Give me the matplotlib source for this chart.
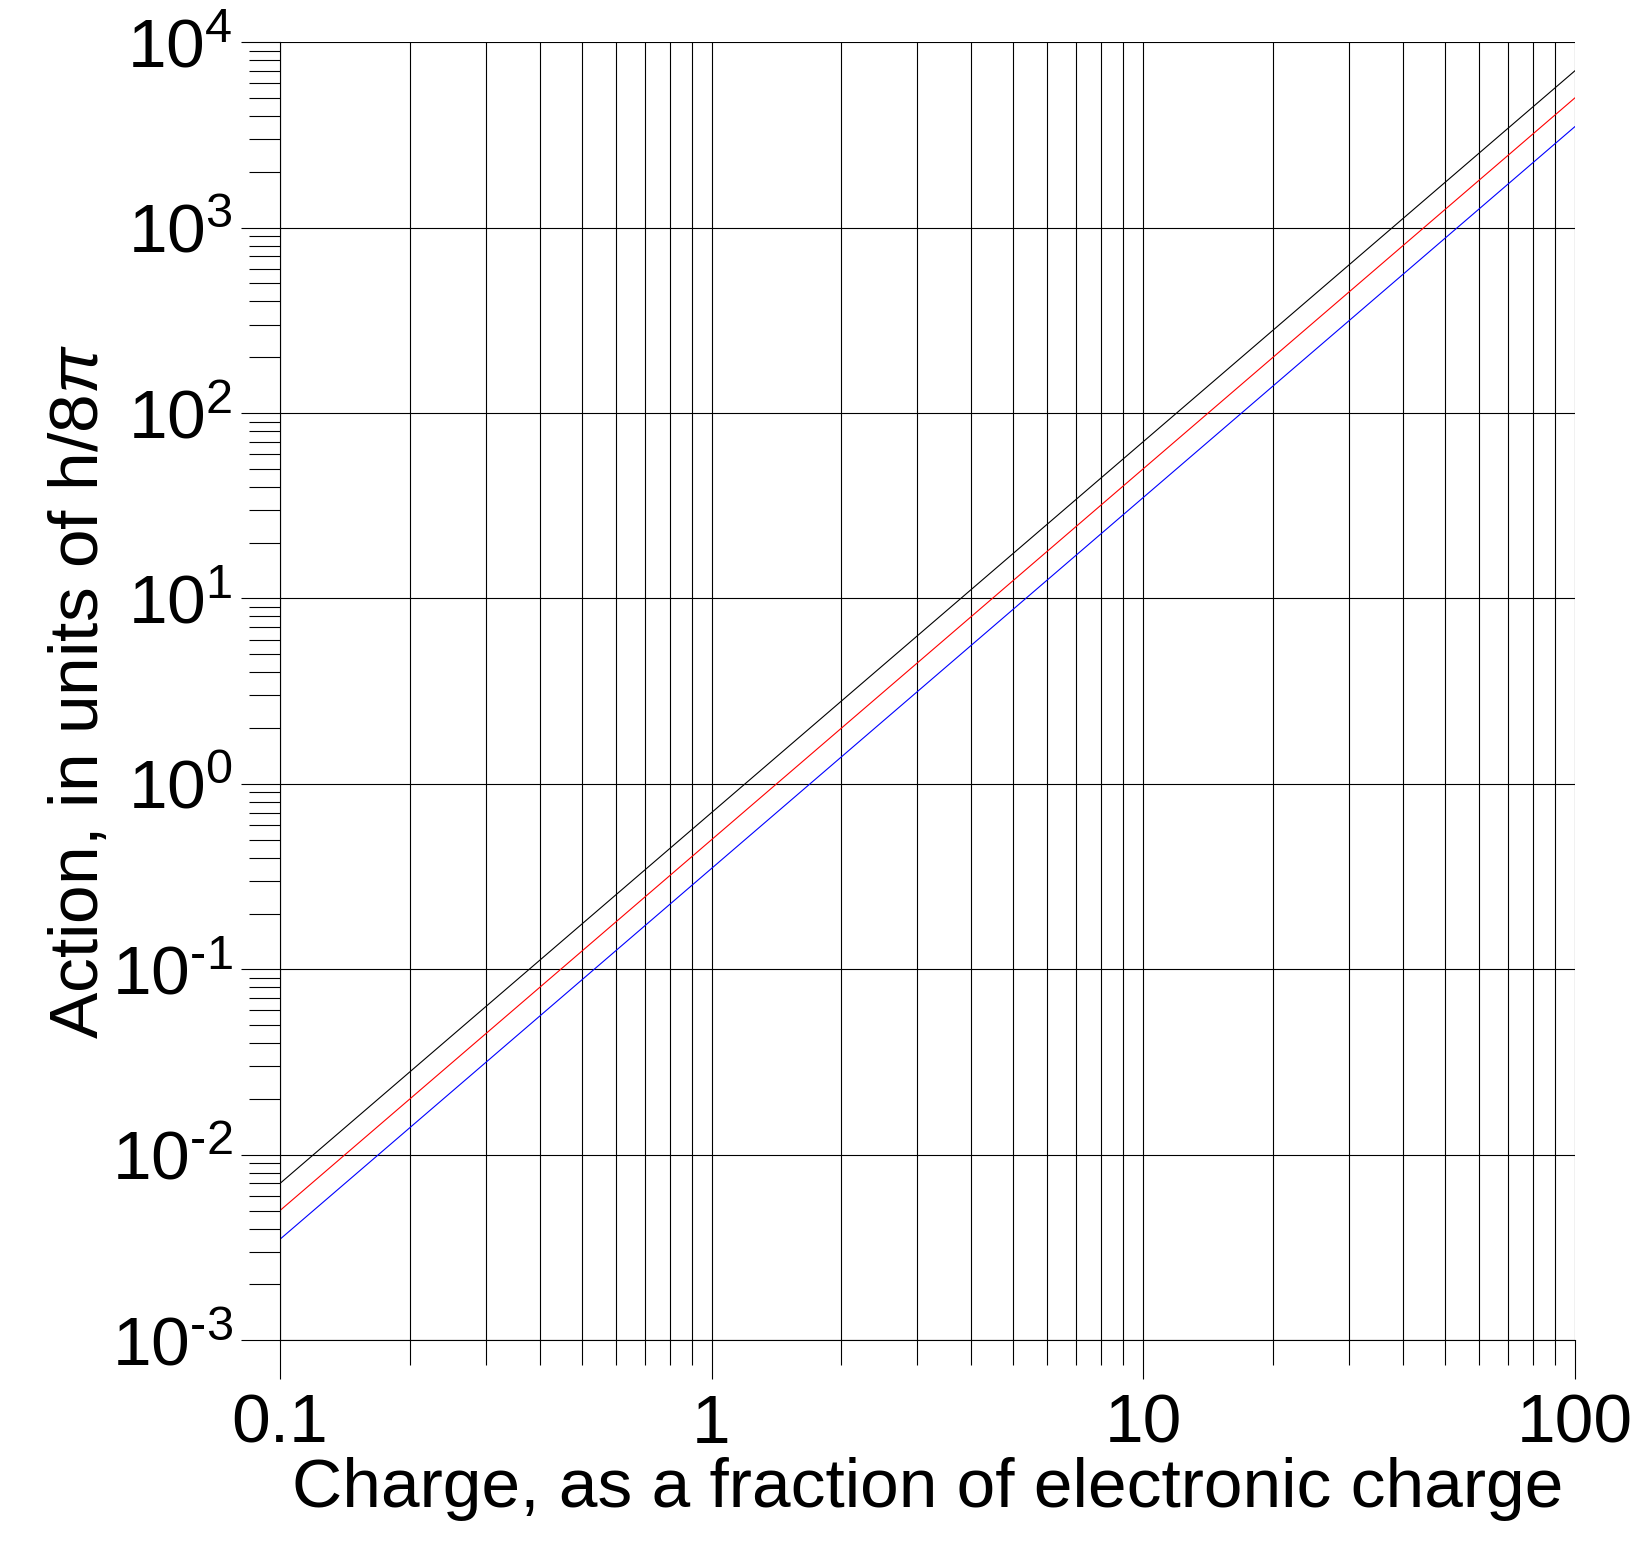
import numpy as np
import matplotlib.pyplot as plt
from matplotlib.ticker import LogLocator

plt.rcParams['font.family'] = ['Liberation Sans', 'DejaVu Sans']
plt.rcParams['mathtext.fontset'] = 'custom'
plt.rcParams['mathtext.rm'] = 'Liberation Sans'
plt.rcParams['mathtext.it'] = 'Liberation Sans:italic'
plt.rcParams['axes.unicode_minus'] = False

# end points (lines are straight on log-log, slope 2)
charge = [0.1, 100]
action_black = [0.007, 7000]
action_red = [0.005, 5000]
action_blue = [0.0035, 3500]

xticks = [0.1, 1, 10, 100]
xlabels = ['0.1', '1', '10', '100']
yticks = [1e-3, 1e-2, 1e-1, 1e0, 1e1, 1e2, 1e3, 1e4]
ylabels = ['10$^{\\text{-}3}$', '10$^{\\text{-}2}$', '10$^{\\text{-}1}$', '10$^{0}$',
           '10$^{1}$', '10$^{2}$', '10$^{3}$', '10$^{4}$']

fig = plt.figure(figsize=(16.37, 15.62), dpi=100)
ax = fig.add_axes([0.171, 0.142, 0.791, 0.831])

ax.plot(charge, action_black, color='black', lw=0.8)
ax.plot(charge, action_red, color='red', lw=0.8)
ax.plot(charge, action_blue, color='blue', lw=0.8)

ax.set_xscale('log')
ax.set_yscale('log')
ax.set_xlim(0.1, 100)
ax.set_ylim(1e-3, 1e4)

ax.set_xticks(xticks)
ax.set_xticklabels(xlabels)
ax.set_yticks(yticks)
ax.set_yticklabels(ylabels)
ax.xaxis.set_minor_locator(LogLocator(base=10, subs=np.arange(2, 10)))
ax.yaxis.set_minor_locator(LogLocator(base=10, subs=np.arange(2, 10)))
ax.yaxis.set_minor_formatter(plt.NullFormatter())
ax.xaxis.set_minor_formatter(plt.NullFormatter())

ax.grid(True, which='major', axis='both', color='black', lw=0.8)
ax.grid(True, which='minor', axis='x', color='black', lw=0.8)

ax.tick_params(axis='both', which='major', direction='out', length=28, width=0.8,
               labelsize=50, pad=6)
ax.tick_params(axis='x', which='minor', direction='out', length=18, width=0.8)
ax.tick_params(axis='y', which='minor', direction='out', length=22, width=0.8)
ax.tick_params(axis='x', which='major', pad=10)

for s in ['top', 'right']:
    ax.spines[s].set_visible(False)
for s in ['left', 'bottom']:
    ax.spines[s].set_linewidth(0.8)

ax.set_xlabel('Charge, as a fraction of electronic charge', fontsize=50, labelpad=0)
ax.set_ylabel(r'Action, in units of h/8$\pi$', fontsize=50, labelpad=0)

fig.savefig('out.png', dpi=100, facecolor='white')
